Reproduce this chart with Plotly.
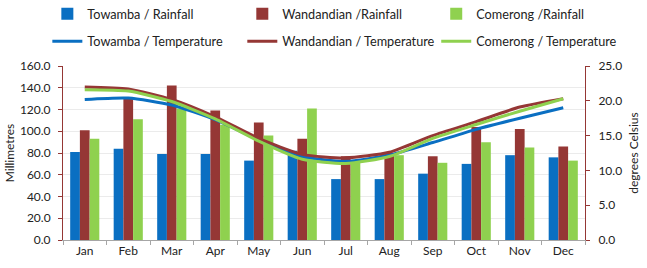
import plotly.graph_objects as go

months = ["Jan", "Feb", "Mar", "Apr", "May", "Jun", "Jul", "Aug", "Sep", "Oct", "Nov", "Dec"]

towamba_rain = [81, 84, 79, 79, 73, 82, 56, 56, 61, 70, 78, 76]
wandandian_rain = [101, 130, 142, 119, 108, 93, 77, 80, 77, 104, 102, 86]
comerong_rain = [93, 111, 121, 106, 96, 121, 72, 78, 71, 90, 85, 73]

towamba_temp = [20.2, 20.4, 19.4, 17.3, 14.4, 12.0, 11.3, 12.2, 14.0, 15.9, 17.5, 19.0]
wandandian_temp = [22.0, 21.7, 20.2, 17.7, 14.6, 12.3, 11.8, 12.6, 15.0, 17.0, 19.1, 20.3]
comerong_temp = [21.6, 21.4, 19.9, 17.4, 14.2, 11.6, 11.0, 12.0, 14.6, 16.6, 18.5, 20.3]

BLUE = "#0A6FC2"
RED = "#953735"
GREEN = "#8FD14F"
FONT = "Lato"

stations = [
    ("Towamba / Rainfall", towamba_rain, "Towamba / Temperature", towamba_temp, BLUE, "legend"),
    ("Wandandian /Rainfall", wandandian_rain, "Wandandian / Temperature", wandandian_temp, RED, "legend2"),
    ("Comerong /Rainfall", comerong_rain, "Comerong / Temperature", comerong_temp, GREEN, "legend3"),
]

fig = go.Figure()

for i, (rname, rvals, _, _, col, leg) in enumerate(stations):
    fig.add_trace(go.Bar(x=months, y=rvals, name=rname, marker_color=col,
                         marker_line_width=0, legend=leg, legendgroup=f"r{i}",
                         legendrank=1))

for i, (_, _, tname, tvals, col, leg) in enumerate(stations):
    fig.add_trace(go.Scatter(x=months, y=tvals, name=tname, mode="lines",
                             line=dict(color=col, width=3, shape="spline", smoothing=0.6),
                             yaxis="y2", legend=leg, legendgroup=f"t{i}", legendrank=2))

leg_common = dict(orientation="v", xanchor="left", yanchor="middle", y=1.218,
                  font=dict(size=12.7), itemwidth=30, tracegroupgap=8,
                  traceorder="grouped", bgcolor="rgba(0,0,0,0)")

fig.update_layout(
    width=647, height=268,
    margin=dict(l=63, r=62, t=66, b=28, autoexpand=False),
    paper_bgcolor="white", plot_bgcolor="white",
    font=dict(family=FONT, size=12, color="#222222"),
    barmode="group", bargap=0.33, bargroupgap=0,
    showlegend=True,
    legend=dict(x=-0.030, **leg_common),
    legend2=dict(x=0.3435, **leg_common),
    legend3=dict(x=0.715, **leg_common),
    xaxis=dict(type="category", showgrid=False, showline=True, linecolor="#A6A6A6",
               ticks="outside", tickson="boundaries", ticklen=4, tickcolor="#A6A6A6",
               tickfont=dict(size=12)),
    yaxis=dict(range=[0, 160], dtick=20, tickformat=".1f", showgrid=True,
               gridcolor="#EBEBEB", showline=True, linecolor=RED, ticks="outside",
               ticklen=4, tickcolor=RED, zeroline=False, ticklabelstandoff=5,
               title=dict(text="Millimetres", standoff=2, font=dict(size=12))),
    yaxis2=dict(range=[0, 25], dtick=5, tickformat=".1f", overlaying="y", side="right",
                showgrid=False, showline=True, linecolor=RED, ticks="outside",
                ticklen=4, tickcolor=RED, zeroline=False, ticklabelstandoff=6,
                title=dict(text="degrees Celsius", standoff=8, font=dict(size=12))),
)

fig.write_html("out.html", config={"displayModeBar": False},
               post_script="document.body.style.margin='0';")
